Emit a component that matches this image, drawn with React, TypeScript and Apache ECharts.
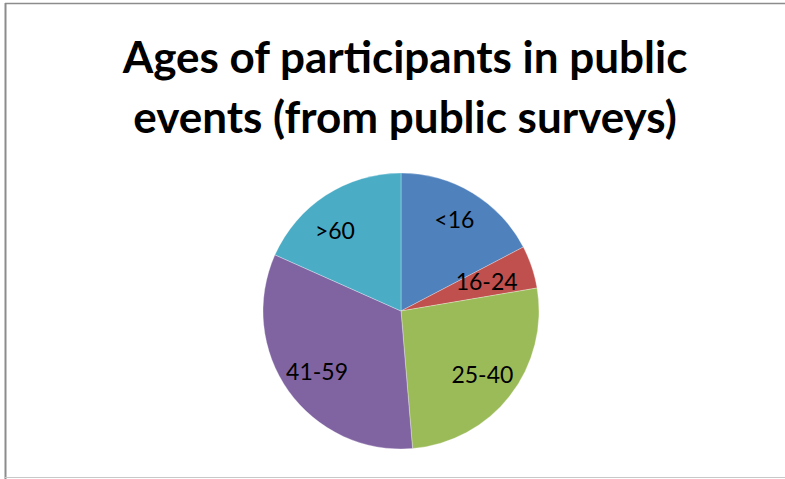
import React, { useEffect, useRef } from "react";
import * as echarts from "echarts";

// Survey answers, grouped by age band
const ageBands = ["<16", "16-24", "25-40", "41-59", ">60"];
const participants = [52, 15, 79, 99, 55];
const bandColors = ["#4F81BD", "#C0504D", "#9BBB59", "#8064A2", "#4BACC6"];
// small nudges so the labels sit comfortably inside their slices
const labelNudges: [number, number][] = [[0, -4], [-12, 3], [0, 0], [0, 0], [-10, 5]];

const chartTitle = "Ages of participants in public\nevents (from public surveys)";

export default function App() {
  const ref = useRef<HTMLDivElement>(null);

  useEffect(() => {
    if (!ref.current) return;
    const chart = echarts.init(ref.current, undefined, { renderer: "svg" });

    const slices = ageBands.map((name, i) => ({
      name,
      value: participants[i],
      itemStyle: { color: bandColors[i] },
    }));

    chart.setOption({
      animation: false,
      backgroundColor: "#ffffff",
      title: {
        text: chartTitle,
        left: 400,
        textAlign: "center",
        top: 21,
        textStyle: {
          fontFamily: "Lato",
          fontWeight: "bold",
          fontSize: 44,
          lineHeight: 60,
          color: "#000000",
        },
      },
      graphic: [
        {
          type: "line",
          shape: { x1: 5.5, y1: 3, x2: 5.5, y2: 479 },
          style: { stroke: "#8c8c8c", lineWidth: 2 },
        },
        {
          type: "line",
          shape: { x1: 5, y1: 3.5, x2: 785, y2: 3.5 },
          style: { stroke: "#8c8c8c", lineWidth: 1.5 },
        },
        {
          type: "line",
          shape: { x1: 5, y1: 477.5, x2: 785, y2: 477.5 },
          style: { stroke: "#c8c8c8", lineWidth: 1 },
        },
      ],
      series: [
        {
          type: "pie",
          center: [401, 311],
          radius: [0, 138],
          startAngle: 90,
          clockwise: true,
          silent: true,
          label: { show: false },
          labelLine: { show: false },
          itemStyle: { borderColor: "rgba(255,255,255,0.6)", borderWidth: 0.5 },
          data: slices,
        },
        {
          // transparent ring that carries the category labels at mid-radius
          type: "pie",
          center: [401, 311],
          radius: [62, 138],
          startAngle: 90,
          clockwise: true,
          silent: true,
          itemStyle: { color: "rgba(0,0,0,0)" },
          labelLine: { show: false },
          label: {
            show: true,
            position: "inside",
            formatter: "{b}",
            fontFamily: "Lato",
            fontSize: 23,
            color: "#000000",
          },
          labelLayout: (params: any) => {
            const n = labelNudges[params.dataIndex] || [0, 0];
            return { dx: n[0], dy: n[1] };
          },
          data: ageBands.map((name, i) => ({ name, value: participants[i] })),
        },
      ],
    });

    return () => chart.dispose();
  }, []);

  return (
    <div
      ref={ref}
      style={{ position: "fixed", left: 0, top: 0, width: 785, height: 479 }}
    />
  );
}
